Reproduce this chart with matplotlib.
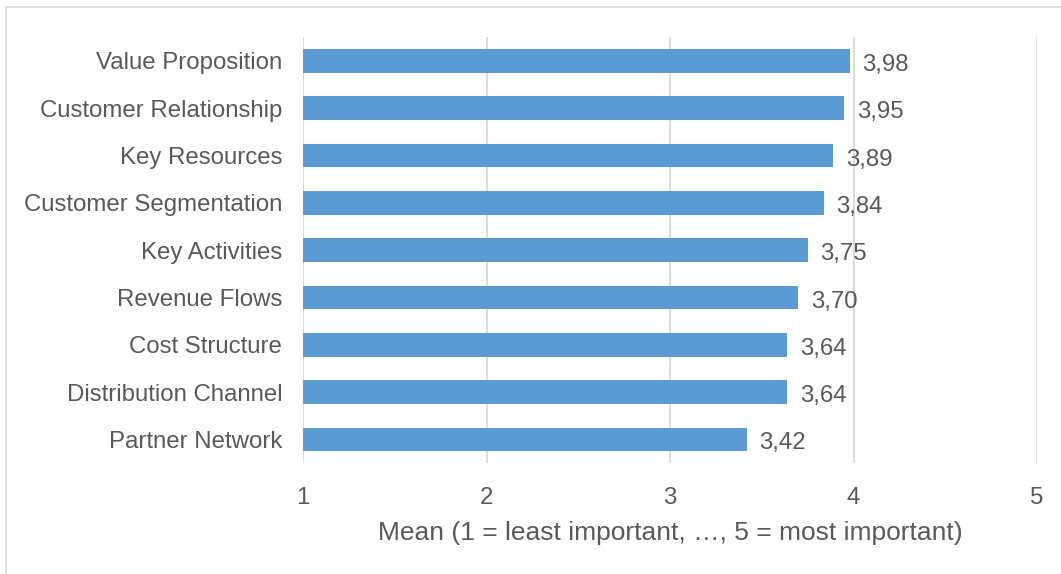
import matplotlib
matplotlib.use("Agg")
import matplotlib.pyplot as plt
from matplotlib.patches import Rectangle

categories = ["Value Proposition", "Customer Relationship", "Key Resources",
              "Customer Segmentation", "Key Activities", "Revenue Flows",
              "Cost Structure", "Distribution Channel", "Partner Network"]
means = [3.98, 3.95, 3.89, 3.84, 3.75, 3.70, 3.64, 3.64, 3.42]
xticks = [1, 2, 3, 4, 5]

TXT = "#595959"
GRID = "#D9D9D9"
BAR = "#5B9BD5"
FS = 17.3
plt.rcParams["font.family"] = ["Liberation Sans", "DejaVu Sans"]

fig = plt.figure(figsize=(10.61, 5.74), dpi=100)
ax = fig.add_axes([303 / 1061, 1 - 463 / 574, (1037 - 303) / 1061, (463 - 37) / 574])

# chart border (right/bottom edges fall outside the image)
fig.patches.append(Rectangle((6 / 1061, -0.1), 1.2, 1 - 7 / 574 + 0.1,
                             transform=fig.transFigure, fill=False,
                             ec=GRID, lw=1.2))

y = list(range(len(categories)))
ax.barh(y, [m - 1 for m in means], left=1, height=0.5, color=BAR, zorder=2)
for yi, m in zip(y, means):
    ax.annotate(f"{m:.2f}".replace(".", ","), (m, yi), xytext=(9, -3),
                textcoords="offset points", va="center", ha="left",
                fontsize=FS, color=TXT)

ax.set_ylim(len(categories) - 0.5, -0.5)
ax.set_xlim(1, 5)
ax.set_xticks(xticks)
ax.set_yticks(y)
ax.set_yticklabels(categories)
ax.tick_params(length=0, labelsize=FS, colors=TXT)
ax.tick_params(axis="x", pad=17)
ax.tick_params(axis="y", pad=15)
ax.grid(axis="x", color=GRID, lw=1.3, zorder=0)
for s in ax.spines.values():
    s.set_visible(False)
ax.set_xlabel("Mean (1 = least important, \u2026, 5 = most important)",
              fontsize=19, color=TXT, labelpad=9)

fig.savefig("out.png", dpi=100)
